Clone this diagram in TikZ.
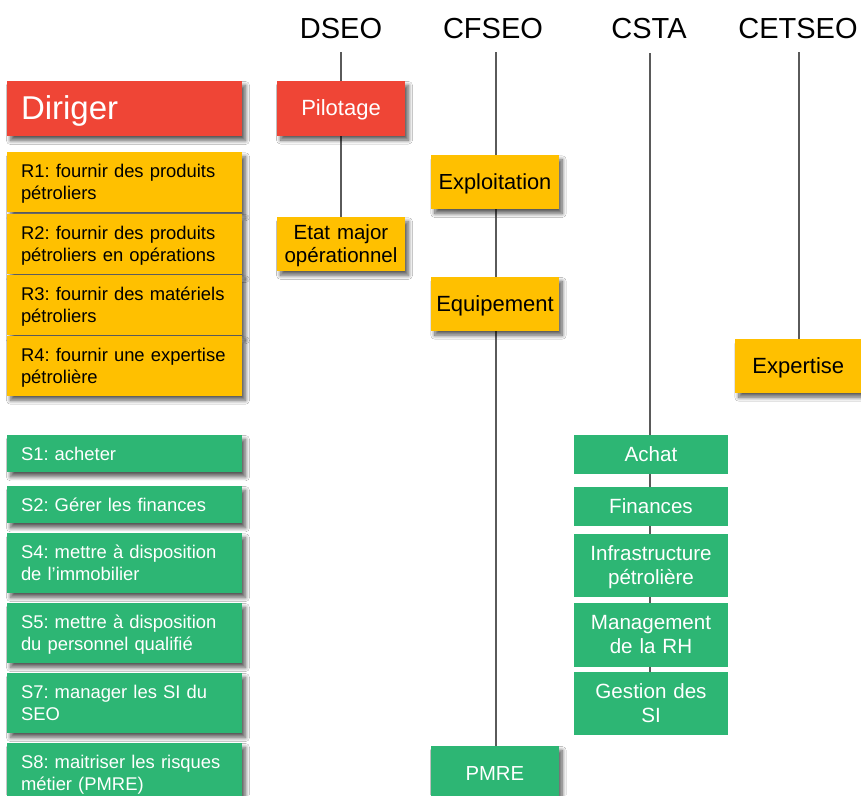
\documentclass[tikz,border=0pt]{standalone}
\usepackage{fontspec}
\setmainfont{Liberation Sans}
\usetikzlibrary{shadows.blur,backgrounds}
\definecolor{cRed}{HTML}{EF4536}
\definecolor{cYel}{HTML}{FFC000}
\definecolor{cGrn}{HTML}{2DB674}
\definecolor{cLine}{HTML}{5A5A5A}
\frenchspacing
\hyphenpenalty=10000
\exhyphenpenalty=10000
\begin{document}
\begin{tikzpicture}[x=1pt,y=-1pt,
  bx/.style={anchor=north west, inner sep=0pt, outer sep=0pt,
    execute at begin node={\frenchspacing\rule{0pt}{.905em}},
    execute at end node={\rule[-.212em]{0pt}{0pt}}},
  shad/.style={blur shadow={shadow xshift=3.5pt, shadow yshift=-4.5pt,
    shadow blur radius=4pt, shadow blur steps=10, shadow opacity=65}},
  lbox/.style={bx, text width=207pt, inner xsep=14pt, align=left,
    minimum height=#1, font=\fontsize{18.4}{22.5}\selectfont},
  cbox/.style n args={2}{bx, text width=#1, align=center, minimum height=#2},
  redb/.style={fill=cRed, text=white},
  yelb/.style={fill=cYel, text=black},
  grnb/.style={fill=cGrn, text=white},
  hdr/.style={anchor=base, inner sep=0pt, font=\fontsize{29}{35}\selectfont},
  conn/.style={draw=cLine, line width=1.3pt}
]
\useasboundingbox (0,0) rectangle (861,795);

% headers
\node[hdr] (hD) at (341,38) {DSEO};
\node[hdr] (hF) at (493,38) {CFSEO};
\node[hdr] (hC) at (649,38) {CSTA};
\node[hdr] (hE) at (798,38) {CETSEO};
\coordinate (tD) at (341,52);
\coordinate (tF) at (496,52);
\coordinate (tC) at (650,53);
\coordinate (tE) at (799,52);

% left column
\node[lbox=55pt, redb, shad, font=\fontsize{33}{38}\selectfont] (dir) at (7,81) {Diriger};
\node[lbox=60pt, yelb, shad] (r1) at (7,152.3) {R1: fournir des produits\\pétroliers};
\node[lbox=60pt, yelb, shad] (r2) at (7,214) {R2: fournir des produits\\pétroliers en opérations};
\node[lbox=60pt, yelb, shad] (r3) at (7,275.3) {R3: fournir des matériels\\pétroliers};
\node[lbox=59.4pt, yelb, shad] (r4) at (7,336.3) {R4: fournir une expertise\\pétrolière};

\node[lbox=37.3pt, grnb, shad] (s1) at (7,435) {S1: acheter};
\node[lbox=37.3pt, grnb, shad] (s2) at (7,486) {S2: Gérer les finances};
\node[lbox=59.7pt, grnb, shad] (s4) at (7,533.3) {S4: mettre à disposition\\de l’immobilier};
\node[lbox=60pt, grnb, shad] (s5) at (7,603) {S5: mettre à disposition\\du personnel qualifié};
\node[lbox=60pt, grnb, shad] (s7) at (7,673) {S7: manager les SI du\\SEO};
\node[lbox=60pt, grnb, shad] (s8) at (7,743) {S8: maitriser les risques\\métier (PMRE)};

% DSEO
\node[cbox={128pt}{54.5pt}, redb, shad, font=\fontsize{22}{26}\selectfont] (pil) at (277,81) {Pilotage};
\node[cbox={128pt}{53.5pt}, yelb, shad, font=\fontsize{20.5}{23.5}\selectfont] (etat) at (277,217.3) {Etat major\\opérationnel};

% CFSEO
\node[cbox={127.4pt}{53.7pt}, yelb, shad, font=\fontsize{21.8}{25}\selectfont] (expl) at (431.3,155.3) {Exploitation};
\node[cbox={127.4pt}{53.7pt}, yelb, shad, font=\fontsize{22}{25}\selectfont] (equip) at (431.3,277) {Equipement};
\node[cbox={127.7pt}{54pt}, grnb, shad, font=\fontsize{20.3}{24}\selectfont] (pmre) at (431,746) {PMRE};

% CSTA
\node[cbox={154pt}{38.7pt}, grnb, font=\fontsize{20.6}{24}\selectfont] (ach) at (574,435) {Achat};
\node[cbox={154pt}{38.7pt}, grnb, font=\fontsize{20.6}{24}\selectfont] (fin) at (574,487) {Finances};
\node[cbox={154pt}{63.3pt}, grnb, font=\fontsize{20.6}{24}\selectfont] (infra) at (574,534) {Infrastructure\\pétrolière};
\node[cbox={154pt}{63.7pt}, grnb, font=\fontsize{20.6}{24}\selectfont] (mgt) at (574,603) {Management\\de la RH};
\node[cbox={154pt}{63.3pt}, grnb, font=\fontsize{20.6}{24}\selectfont] (gest) at (574,672) {Gestion des\\SI};

% CETSEO
\node[cbox={126pt}{53.4pt}, yelb, shad, font=\fontsize{22}{25}\selectfont] (expt) at (735.3,339.3) {Expertise};

\begin{scope}[on background layer]
  \fill[white] (0,0) rectangle (861,795);
  \draw[conn] (tD) -- (tD |- pil.north);
  \draw[conn] (pil.south) -- (etat.north);
  \draw[conn] (tF) -- (tF |- expl.north);
  \draw[conn] (tF |- expl.south) -- (tF |- equip.north);
  \draw[conn] (tF |- equip.south) -- (tF |- pmre.north);
  \draw[conn] (tC) -- (tC |- gest.south);
  \draw[conn] (tE) -- (tE |- expt.north);
\end{scope}
\end{tikzpicture}
\end{document}
